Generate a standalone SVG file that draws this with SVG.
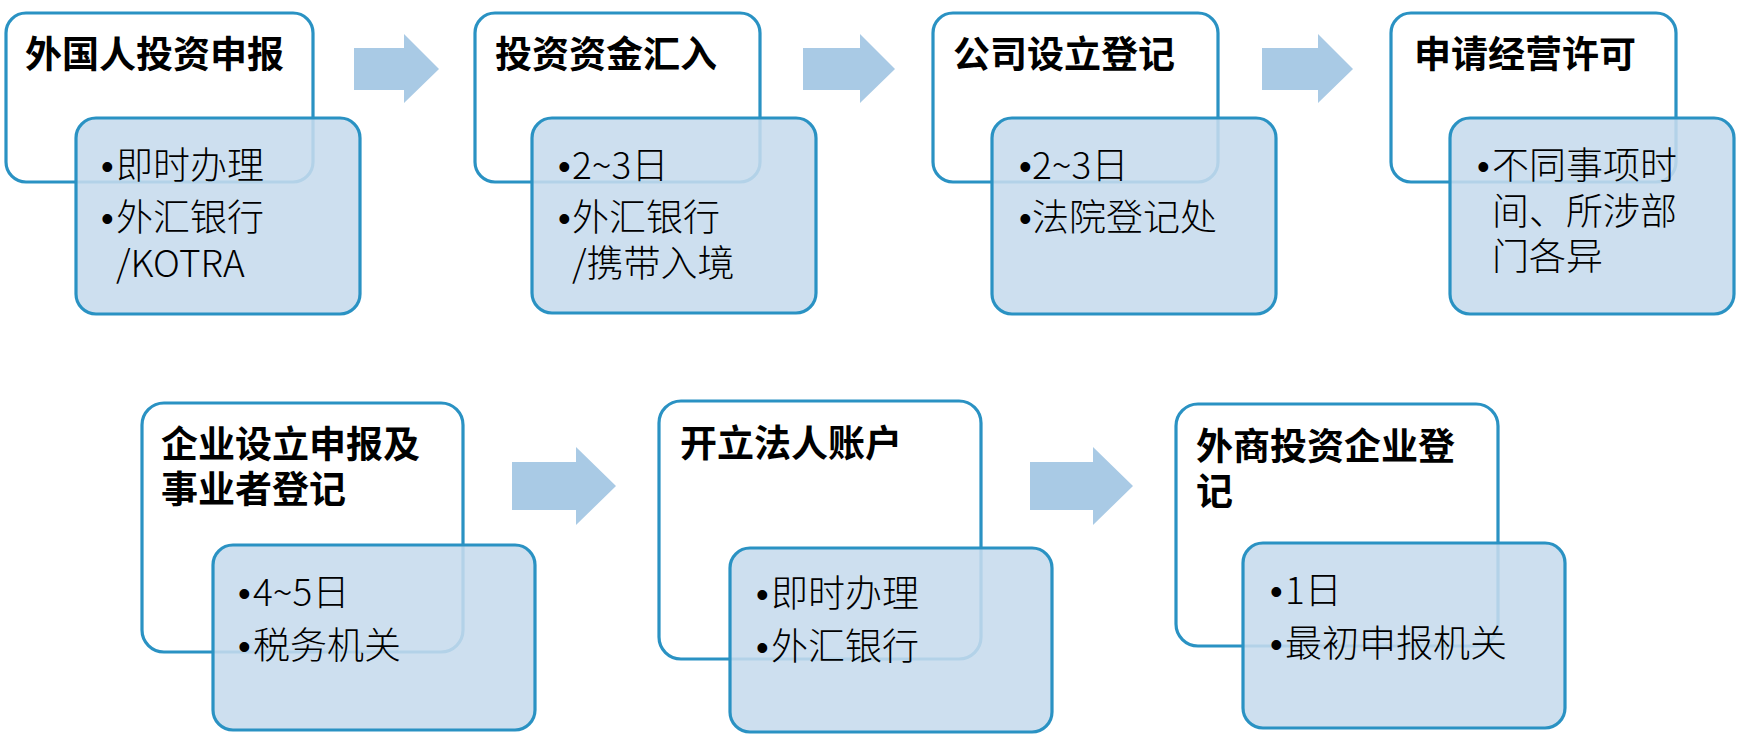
<svg xmlns="http://www.w3.org/2000/svg" width="1743" height="742" viewBox="0 0 1743 742">
<style>
.w{fill:#ffffff;stroke:#2a92c3;stroke-width:3.2}
.b{fill:#c6dbed;fill-opacity:0.88;stroke:#2a92c3;stroke-width:3.2}
.ar{fill:#a9cae5}
.t{font-family:"Noto Sans CJK SC","Liberation Sans",sans-serif;font-size:37px;font-weight:700;fill:#000}
.s{font-family:"Noto Sans CJK SC","Liberation Sans",sans-serif;font-size:37px;font-weight:300;fill:#000}
.d{font-family:"Liberation Sans",sans-serif;font-size:36px}
</style>
<g id="connectors">
<polygon class="ar" points="354,48 404,48 404,34 439,69 404,103 404,90 354,90"/>
<polygon class="ar" points="803,48 860,48 860,34 895,69 860,103 860,90 803,90"/>
<polygon class="ar" points="1262,48 1318,48 1318,34 1353,69 1318,103 1318,90 1262,90"/>
<polygon class="ar" points="512,462 576,462 576,447 616,486 576,525 576,510 512,510"/>
<polygon class="ar" points="1030,462 1093,462 1093,447 1133,486 1093,525 1093,510 1030,510"/>
</g>
<g id="node1">
<rect class="w" x="6" y="13" width="307" height="169" rx="20"/>
<text class="t" x="25" y="68">外国人投资申报</text>
<rect class="b" x="76" y="118" width="284" height="196" rx="20"/>
<text class="s" y="179"><tspan class="d" x="101">•</tspan><tspan x="116">即时办理</tspan></text>
<text class="s" y="231"><tspan class="d" x="101">•</tspan><tspan x="116">外汇银行</tspan></text>
<text class="s" x="116" y="277">/KOTRA</text>
</g>
<g id="node2">
<rect class="w" x="475" y="13" width="285" height="169" rx="20"/>
<text class="t" x="495" y="68">投资资金汇入</text>
<rect class="b" x="532" y="118" width="284" height="195" rx="20"/>
<text class="s" y="179"><tspan class="d" x="558">•</tspan><tspan x="572">2~3日</tspan></text>
<text class="s" y="231"><tspan class="d" x="558">•</tspan><tspan x="572">外汇银行</tspan></text>
<text class="s" x="572" y="277">/携带入境</text>
</g>
<g id="node3">
<rect class="w" x="933" y="13" width="285" height="169" rx="20"/>
<text class="t" x="953" y="68">公司设立登记</text>
<rect class="b" x="992" y="118" width="284" height="196" rx="20"/>
<text class="s" y="179"><tspan class="d" x="1019">•</tspan><tspan x="1032">2~3日</tspan></text>
<text class="s" y="231"><tspan class="d" x="1019">•</tspan><tspan x="1032">法院登记处</tspan></text>
</g>
<g id="node4">
<rect class="w" x="1391" y="13" width="285" height="169" rx="20"/>
<text class="t" x="1414" y="68">申请经营许可</text>
<rect class="b" x="1450" y="118" width="284" height="196" rx="20"/>
<text class="s" y="179"><tspan class="d" x="1477">•</tspan><tspan x="1492">不同事项时</tspan></text>
<text class="s" x="1492" y="225">间、所涉部</text>
<text class="s" x="1492" y="270">门各异</text>
</g>
<g id="node5">
<rect class="w" x="142" y="403" width="321" height="249" rx="22"/>
<text class="t" x="161" y="458">企业设立申报及</text>
<text class="t" x="161" y="503">事业者登记</text>
<rect class="b" x="213" y="545" width="322" height="185" rx="20"/>
<text class="s" y="606"><tspan class="d" x="238">•</tspan><tspan x="253">4~5日</tspan></text>
<text class="s" y="659"><tspan class="d" x="238">•</tspan><tspan x="253">税务机关</tspan></text>
</g>
<g id="node6">
<rect class="w" x="659" y="401" width="322" height="258" rx="22"/>
<text class="t" x="680" y="457">开立法人账户</text>
<rect class="b" x="730" y="548" width="322" height="184" rx="20"/>
<text class="s" y="607"><tspan class="d" x="756">•</tspan><tspan x="771">即时办理</tspan></text>
<text class="s" y="660"><tspan class="d" x="756">•</tspan><tspan x="771">外汇银行</tspan></text>
</g>
<g id="node7">
<rect class="w" x="1176" y="404" width="322" height="242" rx="22"/>
<text class="t" x="1196" y="460">外商投资企业登</text>
<text class="t" x="1196" y="505">记</text>
<rect class="b" x="1243" y="543" width="322" height="185" rx="20"/>
<text class="s" y="604"><tspan class="d" x="1270">•</tspan><tspan x="1285">1日</tspan></text>
<text class="s" y="657"><tspan class="d" x="1270">•</tspan><tspan x="1285">最初申报机关</tspan></text>
</g>
</svg>
